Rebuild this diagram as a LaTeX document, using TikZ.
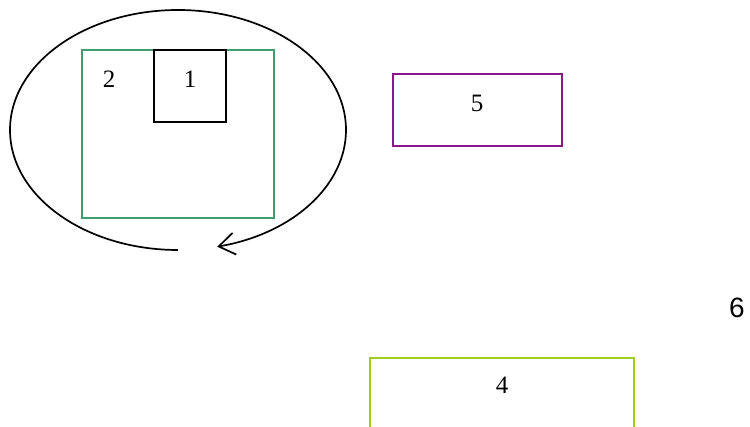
\documentclass[tikz,border=0pt]{standalone}
\usepackage{fontspec}
\setmainfont{Liberation Serif}
\newfontfamily\arialfont{Liberation Sans}
\usetikzlibrary{arrows.meta}
\definecolor{boxgreen}{RGB}{64,158,110}
\definecolor{boxpurple}{RGB}{140,20,140}
\definecolor{boxlime}{RGB}{160,205,30}
\tikzset{
  box/.style={draw, rectangle, line width=1.7pt, inner sep=0pt, outer sep=0pt},
  lbl/.style={inner sep=0pt, font=\fontsize{25}{25}\selectfont},
}
\begin{document}
\begin{tikzpicture}[x=1pt,y=-1pt]
\useasboundingbox (0,0) rectangle (750,427);
% green box 2
\node[box, draw=boxgreen, minimum width=192pt, minimum height=168pt] (b2) at (178,134) {};
\node[lbl] (t2) at (109,79) {2};
% black box 1
\node[box, draw=black, minimum width=72pt, minimum height=72pt] (b1) at (190,86) {};
\node[lbl] (t1) at (190,79) {1};
% purple box 5
\node[box, draw=boxpurple, minimum width=169pt, minimum height=72pt] (b5) at (477.5,110) {};
\node[lbl] (t5) at (477,103) {5};
% lime box 4
\node[box, draw=boxlime, minimum width=264pt, minimum height=110pt] (b4) at (502,413) {};
\node[lbl] (t4) at (502,385) {4};
% label 6
\node[inner sep=0pt, font=\arialfont\fontsize{28}{28}\selectfont] (t6) at (737,308) {6};
% circular arrow
\coordinate (cs) at (178,250);
\draw[line width=1.7pt, -{Straight Barb[length=16pt,width=22pt,line width=1.7pt]}]
  (cs) arc[start angle=90, end angle=436.5, x radius=168, y radius=120];
\end{tikzpicture}
\end{document}
